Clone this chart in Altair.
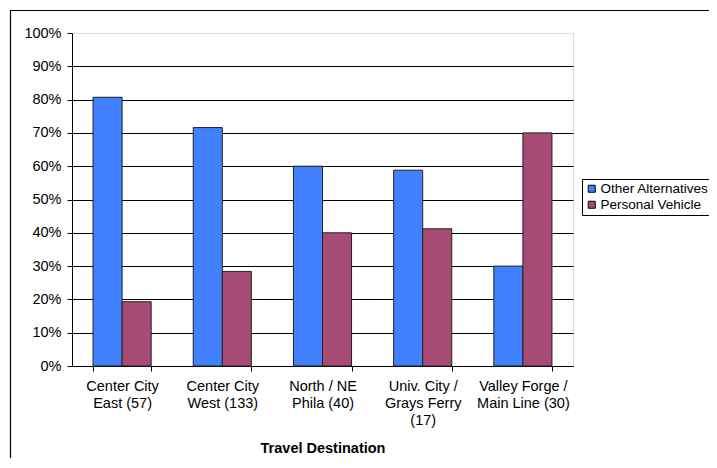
import altair as alt
import pandas as pd

# Data
categories = [
    "Center City|East (57)",
    "Center City|West (133)",
    "North / NE|Phila (40)",
    "Univ. City /|Grays Ferry|(17)",
    "Valley Forge /|Main Line (30)",
]
series = ["Other Alternatives", "Personal Vehicle"]
other_alternatives = [0.807, 0.716, 0.600, 0.588, 0.300]
personal_vehicle = [0.193, 0.284, 0.400, 0.412, 0.700]
y_ticks = [0, 0.1, 0.2, 0.3, 0.4, 0.5, 0.6, 0.7, 0.8, 0.9, 1.0]
colors = ["#4181FF", "#A84B74"]

rows = []
for c, a, b in zip(categories, other_alternatives, personal_vehicle):
    rows.append({"dest": c, "series": series[0], "share": a})
    rows.append({"dest": c, "series": series[1], "share": b})
df = pd.DataFrame(rows)

FONT = "Liberation Sans"
FS = 14.5

bars = alt.Chart(df).mark_bar(stroke="#222222", strokeWidth=1).encode(
    x=alt.X(
        "dest:N",
        sort=categories,
        scale=alt.Scale(paddingInner=0.42, paddingOuter=0.21),
        axis=alt.Axis(
            title="Travel Destination",
            labelAngle=0,
            labelExpr="split(datum.label, '|')",
            labelFont=FONT,
            labelFontSize=FS,
            labelColor="black",
            labelLineHeight=17,
            labelPadding=8,
            tickBand="extent",
            tickSize=5,
            tickColor="black",
            domainColor="black",
            grid=False,
            titleFont=FONT,
            titleFontSize=FS,
            titleFontWeight="bold",
            titleColor="black",
            titleBaseline="alphabetic",
            titleY=86,
        ),
    ),
    xOffset=alt.XOffset("series:N", sort=series, scale=alt.Scale(paddingInner=0, paddingOuter=0)),
    y=alt.Y(
        "share:Q",
        scale=alt.Scale(domain=[0, 1], nice=False),
        axis=alt.Axis(
            title=None,
            values=y_ticks,
            format=".0%",
            labelFont=FONT,
            labelFontSize=FS,
            labelColor="black",
            labelPadding=6,
            tickSize=5,
            tickColor="black",
            domainColor="black",
            grid=True,
            gridColor=alt.condition("datum.value === 1", alt.value("#dddddd"), alt.value("#000000")),
            gridWidth=1,
        ),
    ),
    color=alt.Color(
        "series:N",
        sort=series,
        scale=alt.Scale(domain=series, range=colors),
        legend=alt.Legend(
            title=None,
            orient="none",
            legendX=510,
            legendY=146,
            strokeColor="black",
            fillColor="white",
            padding=3,
            symbolType="square",
            symbolSize=49,
            symbolStrokeColor="black",
            symbolStrokeWidth=1,
            labelFont=FONT,
            labelFontSize=13.5,
            labelColor="black",
            labelOffset=2,
            rowPadding=1,
        ),
    ),
)

frame = alt.Chart(pd.DataFrame({"f": [0]})).mark_rect(
    fill=None, stroke="black", strokeWidth=1.2
).encode(
    x=alt.value(-61.5), x2=alt.value(720), y=alt.value(-22.5), y2=alt.value(500)
)

chart = alt.layer(frame, bars).properties(
    width=501,
    height=333,
    autosize=alt.AutoSizeParams(type="none"),
    padding={"left": 64, "top": 25, "right": 136, "bottom": 92},
).configure_view(stroke=None).configure(background="white")

chart.save("out.html", embed_options={"renderer": "svg", "actions": False})
